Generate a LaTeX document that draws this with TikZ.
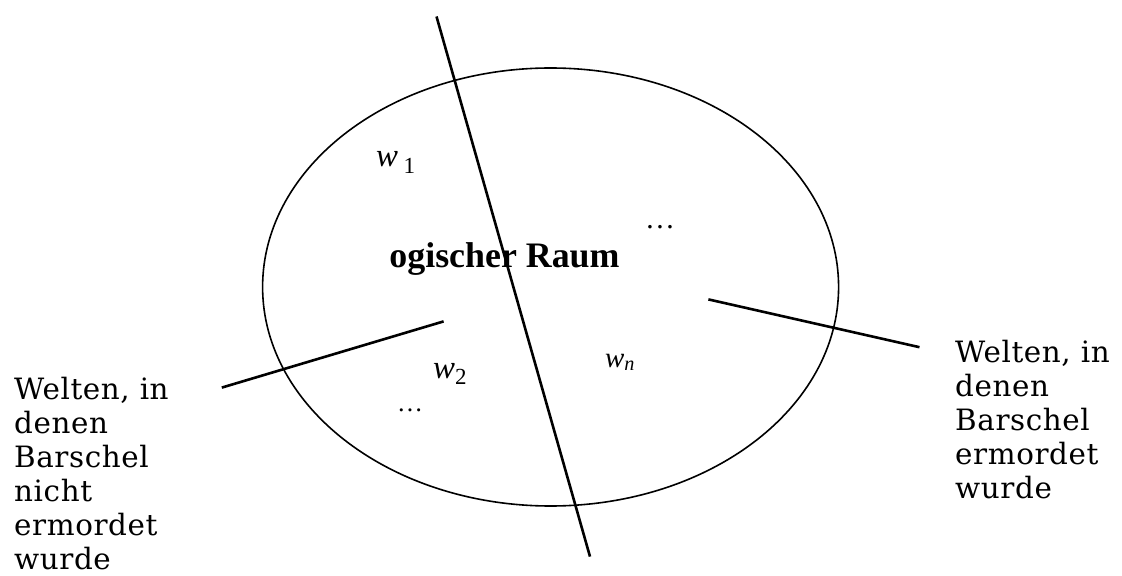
\documentclass[tikz,border=0pt]{standalone}
\usepackage{fontspec}
\setmainfont{Liberation Serif}
\newfontfamily\labelfont[LetterSpace=2]{DejaVu Serif}
\usetikzlibrary{positioning}

\begin{document}
\begin{tikzpicture}[
    x=1bp, y=-1bp,
    cut/.style={line width=2.6bp},
    world/.style={inner sep=0pt,font=\fontsize{33}{33}\selectfont\itshape},
    dots/.style={inner sep=0pt,font=\fontsize{30}{30}\selectfont},
    side/.style={inner sep=0pt,align=left,font=\labelfont\fontsize{29.5}{34.3}\selectfont}
]
\useasboundingbox (0,0) rectangle (1122,576);
% logical space
\draw[line width=1.6bp] (550.6,287) ellipse [x radius=288, y radius=219];
\node[inner sep=0pt,anchor=base,font=\fontsize{36}{36}\selectfont\bfseries] (raum) at (504.5,268) {ogischer Raum};

% worlds
\node[world,anchor=base west] (w1) at (376,167) {w\,\textsubscript{\upshape 1}};
\node[world,anchor=base west] (w2) at (433,378) {w\textsubscript{\upshape 2}};
\node[world,anchor=base west,font=\fontsize{29}{29}\selectfont\itshape] (wn) at (605,367) {w\textsubscript{n}};
\node[dots,anchor=base] (dotsA) at (660,229) {…};
\node[dots,anchor=base,font=\fontsize{26}{26}\selectfont] (dotsB) at (410,411) {…};

% dividing line
\coordinate (top) at (436.5,16.5);
\coordinate (bottom) at (590,556.6);
\draw[cut] (top) -- (bottom);

% labels
\node[side,anchor=north west] (notmurdered) at (14,376.5) {Welten, in\\denen\\Barschel\\nicht\\ermordet\\wurde};
\node[side,anchor=north west] (murdered) at (955,339.5) {Welten, in\\denen\\Barschel\\ermordet\\wurde};
\coordinate (leftin) at (443.6,321.4);
\coordinate (leftout) at (221.8,387.6);
\coordinate (rightin) at (708.4,299.4);
\coordinate (rightout) at (919.5,347.2);
\draw[cut] (leftout) -- (leftin);
\draw[cut] (rightin) -- (rightout);
\end{tikzpicture}
\end{document}
